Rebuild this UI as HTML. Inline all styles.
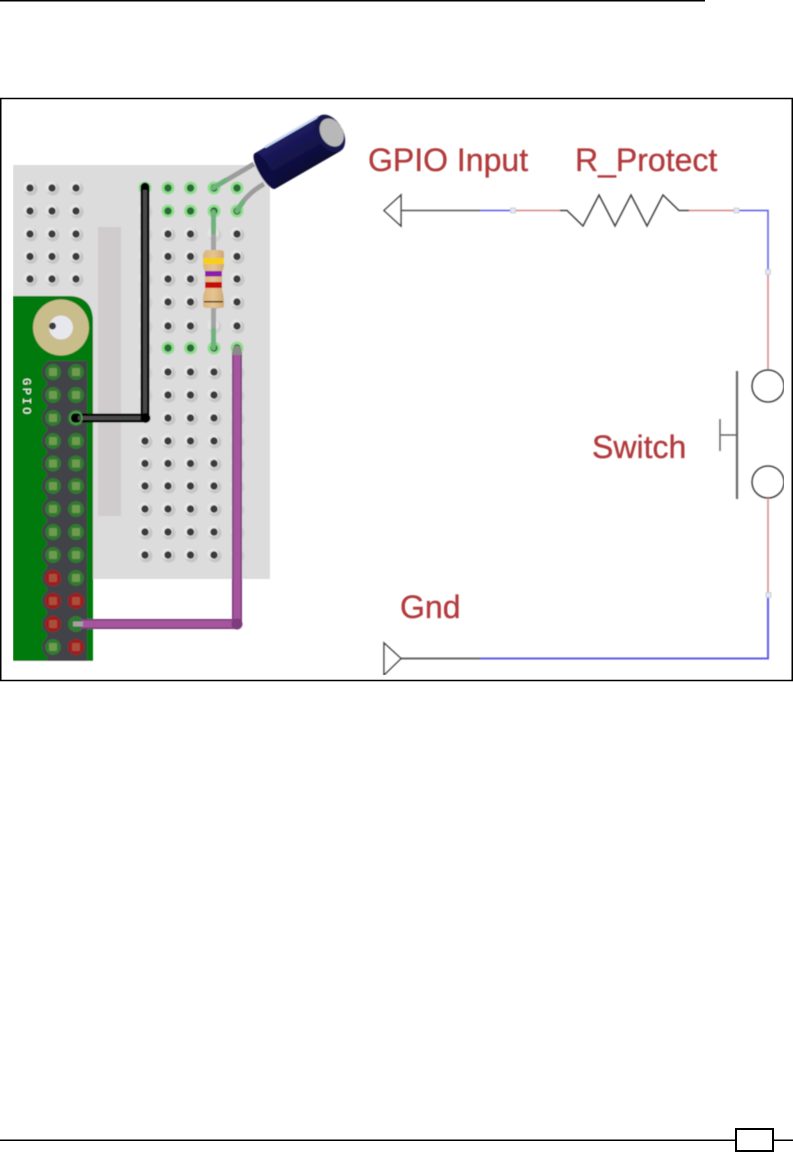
<!DOCTYPE html>
<html><head><meta charset="utf-8"><style>
html,body{margin:0;padding:0;background:#fff;width:793px;height:1152px;overflow:hidden}
svg{display:block}
text.l{font-family:"Liberation Sans",sans-serif;font-size:32px;fill:#b23a3c;stroke:#b23a3c;stroke-width:.35}
</style></head><body>
<svg width="793" height="1152" viewBox="0 0 793 1152" xmlns="http://www.w3.org/2000/svg">
<defs>
<filter id="b" x="0" y="0" width="100%" height="100%"><feGaussianBlur stdDeviation="0.45"/></filter>
<linearGradient id="capb" x1="0" y1="0" x2="0" y2="1"><stop offset="0" stop-color="#1e1d62"/><stop offset=".45" stop-color="#15144e"/><stop offset="1" stop-color="#0a0a30"/></linearGradient>
<linearGradient id="res" x1="0" y1="0" x2="1" y2="0"><stop offset="0" stop-color="#d9b57e"/><stop offset=".5" stop-color="#e6c48f"/><stop offset="1" stop-color="#cfa873"/></linearGradient>
<g id="h"><circle cx="1" cy="1" r="6.500" fill="#c6c6c6"/><circle cx="-1" cy="-1" r="5.500" fill="#e6e6e6"/><circle r="3.700" fill="#3a3a3a"/></g>
<g id="n"><circle cx="1" cy="1" r="6.500" fill="#d0d0d0"/><circle cx="-1" cy="-1" r="5.500" fill="#e4e4e4"/></g>
<g id="gh"><circle r="6.500" fill="#8ede8e"/><circle r="3.700" fill="#2b6b35"/></g>
<g id="bump"><circle cx="-11.500" r="11" fill="#434348"/><circle cx="11.500" r="11" fill="#434348"/></g>
<g id="pg"><circle r="8" fill="#2f7a2f"/><rect x="-4" y="-4" width="8" height="8" rx="1" fill="#6f9a4f"/></g>
<g id="pr"><circle r="8" fill="#a01e1e"/><rect x="-4" y="-4" width="8" height="8" rx="1" fill="#a8503e"/></g>
<g id="lc"><use href="#h" y="188"/><use href="#h" y="211"/><use href="#h" y="234"/><use href="#h" y="256.500"/><use href="#h" y="279"/></g>
<g id="col"><use href="#h" y="234"/><use href="#h" y="256.500"/><use href="#h" y="279"/><use href="#h" y="302"/><use href="#h" y="326"/><use href="#h" y="372"/><use href="#h" y="395"/><use href="#h" y="418"/><use href="#h" y="441"/><use href="#h" y="463.500"/><use href="#h" y="486"/><use href="#h" y="509"/><use href="#h" y="532"/><use href="#h" y="555"/></g>
<g id="sq"><rect x="-2.500" y="-2.500" width="5" height="5" fill="#e4e4ee" stroke="#c8c8dc" stroke-width=".8"/></g>
</defs>

<!-- page rules -->
<rect x="0" y="0" width="705" height="1.500" fill="#000"/>
<rect x="0.750" y="98.500" width="791.500" height="582" fill="#fff" stroke="#000" stroke-width="1.500"/>

<g filter="url(#b)">
<!-- breadboard -->
<rect x="13" y="165" width="257" height="414" fill="#dcdcdc"/>
<rect x="98" y="227" width="23" height="289" fill="#d0cccd"/>
<use href="#lc" x="30"/><use href="#lc" x="52"/><use href="#lc" x="76"/>
<!-- main columns -->
<use href="#col" x="168"/><use href="#col" x="190.500"/><use href="#col" x="214"/>
<use href="#h" x="145" y="441"/><use href="#h" x="145" y="463.500"/><use href="#h" x="145" y="486"/><use href="#h" x="145" y="509"/><use href="#h" x="145" y="532"/><use href="#h" x="145" y="555"/>
<use href="#n" x="145" y="211"/><use href="#n" x="145" y="234"/><use href="#n" x="145" y="256.500"/><use href="#n" x="145" y="279"/><use href="#n" x="145" y="302"/><use href="#n" x="145" y="326"/><use href="#n" x="145" y="348"/><use href="#n" x="145" y="372"/><use href="#n" x="145" y="395"/>
<use href="#n" x="214" y="234"/><use href="#n" x="214" y="326"/>
<use href="#h" x="237" y="234"/><use href="#h" x="237" y="256.500"/><use href="#h" x="237" y="279"/><use href="#h" x="237" y="302"/><use href="#h" x="237" y="326"/>
<use href="#n" x="237" y="372"/><use href="#n" x="237" y="395"/><use href="#n" x="237" y="418"/><use href="#n" x="237" y="441"/><use href="#n" x="237" y="463.500"/><use href="#n" x="237" y="486"/><use href="#n" x="237" y="509"/><use href="#n" x="237" y="532"/><use href="#n" x="237" y="555"/>
<!-- highlighted connected holes -->
<use href="#gh" x="145" y="188"/><use href="#gh" x="168" y="188"/><use href="#gh" x="190.500" y="188"/><use href="#gh" x="214" y="188"/><use href="#gh" x="237" y="188"/>
<use href="#gh" x="168" y="211"/><use href="#gh" x="190.500" y="211"/><use href="#gh" x="214" y="211"/><use href="#gh" x="237" y="211"/>
<use href="#gh" x="168" y="348"/><use href="#gh" x="190.500" y="348"/><use href="#gh" x="214" y="348"/><use href="#gh" x="237" y="348"/>

<!-- Pi board -->
<path d="M13 296H68Q93 296 93 322V661H13Z" fill="#067a0e"/>
<circle cx="61" cy="327.500" r="28" fill="#c9bd8c"/>
<circle cx="61" cy="327.500" r="12" fill="#e6e8ee"/>
<circle cx="52.500" cy="326" r="3.500" fill="#3a3a3a"/>
<rect x="47" y="361" width="40" height="300" fill="#434348"/>
<g transform="translate(64.500,0)"><use href="#bump" y="372"/><use href="#bump" y="395"/><use href="#bump" y="418"/><use href="#bump" y="441"/><use href="#bump" y="463.500"/><use href="#bump" y="486"/><use href="#bump" y="509"/><use href="#bump" y="532"/><use href="#bump" y="555"/><use href="#bump" y="578"/><use href="#bump" y="601"/><use href="#bump" y="624"/><use href="#bump" y="647"/></g>
<rect x="13" y="661" width="80" height="12" fill="#fff"/>
<text transform="translate(23,378) rotate(90)" font-family="'Liberation Mono',monospace" font-size="12" letter-spacing="2.500" fill="#f2f7ee">GPIO</text>
<use href="#pg" x="53" y="372"/><use href="#pg" x="76" y="372"/>
<use href="#pg" x="53" y="395"/><use href="#pg" x="76" y="395"/>
<use href="#pg" x="53" y="418"/><use href="#pg" x="76" y="418"/>
<use href="#pg" x="53" y="441"/><use href="#pg" x="76" y="441"/>
<use href="#pg" x="53" y="463.500"/><use href="#pg" x="76" y="463.500"/>
<use href="#pg" x="53" y="486"/><use href="#pg" x="76" y="486"/>
<use href="#pg" x="53" y="509"/><use href="#pg" x="76" y="509"/>
<use href="#pg" x="53" y="532"/><use href="#pg" x="76" y="532"/>
<use href="#pg" x="53" y="555"/><use href="#pg" x="76" y="555"/>
<use href="#pr" x="53" y="578"/><use href="#pg" x="76" y="578"/>
<use href="#pr" x="53" y="601"/><use href="#pr" x="76" y="601"/>
<use href="#pr" x="53" y="624"/><use href="#pg" x="76" y="624"/>
<use href="#pg" x="53" y="647"/><use href="#pr" x="76" y="647"/>

<!-- resistor leads -->
<path d="M213.500 212V348" stroke="#a3a3a3" stroke-width="5" fill="none"/>
<path d="M213.500 212V232M213.500 330V348" stroke="#6fb27c" stroke-width="5" stroke-linecap="round" fill="none"/>
<!-- resistor -->
<path d="M205 251Q204 250 208 250H220Q224 250 224 253V264Q224 268 222 272V290Q224 296 224 303V306Q224 308 220 308H207Q203 308 203 305V298Q203 294 205 290V272Q203 268 203 263V254Z" fill="url(#res)"/>
<rect x="203.500" y="258" width="20.500" height="6" fill="#f6cf18"/>
<rect x="205" y="271" width="17" height="5.500" fill="#8a1fb0"/>
<rect x="205" y="282" width="17" height="6" fill="#c60f0f"/>
<rect x="204" y="301" width="19" height="1.500" fill="#4a3214"/>

<!-- capacitor -->
<path d="M213 188L254 164" stroke="#9c9c9c" stroke-width="5" fill="none"/>
<path d="M213 188L226 180" stroke="#6fb27c" stroke-width="5" stroke-linecap="round" fill="none"/>
<path d="M237 211Q246 194 264 184" stroke="#9c9c9c" stroke-width="5" fill="none"/>
<path d="M237 211L243 202" stroke="#6fb27c" stroke-width="5" stroke-linecap="round" fill="none"/>
<g transform="translate(265,171) rotate(-30)">
<rect x="0" y="-20.500" width="75" height="41" fill="url(#capb)"/>
<ellipse cx="0" cy="0" rx="6" ry="20.500" fill="#101042"/>
<rect x="12" y="-22" width="62" height="2.500" fill="#c9dcf2"/>
<ellipse cx="75" cy="0" rx="13" ry="20.500" fill="#15144e"/>
<ellipse cx="77" cy="0" rx="11" ry="15" fill="#b8b8b8"/>
</g>

<!-- jumper wires -->
<path d="M145 187V418H74" stroke="#000" stroke-width="9" fill="none" stroke-linecap="round" stroke-linejoin="round"/>
<path d="M145 190V414M143 418H78" stroke="#4a4a4a" stroke-width="4" fill="none"/>
<circle cx="145.500" cy="418" r="5" fill="#000"/>
<circle cx="76" cy="418" r="6" fill="none" stroke="#4f9f4f" stroke-width="1.500"/>
<path d="M237 352V624H76" stroke="#7a3a7a" stroke-width="10" fill="none" stroke-linejoin="round"/>
<path d="M237 352V620M233 624H80" stroke="#a4559e" stroke-width="7" fill="none"/>
<circle cx="237" cy="624" r="5.500" fill="#7e3a7e"/>
<circle cx="237" cy="350" r="4.500" fill="#8a8a8a"/>
<rect x="232.500" y="349" width="9" height="6" fill="#8a8a8a"/>
<circle cx="76" cy="624" r="6.500" fill="#2f7a2f"/><rect x="73" y="621.500" width="10" height="5" fill="#a5a0a5"/>

<!-- schematic -->
<g fill="none" stroke-width="1.500">
<path d="M401 195V226L384 210.500Z" stroke="#444" fill="#fff"/>
<path d="M401 210.500H480" stroke="#555"/>
<path d="M480 210.500H512" stroke="#5b5be8"/>
<path d="M512 210.500H560" stroke="#d58585"/>
<path d="M560 210.500H567L583 226L599 195L615 226L631 195L647 226L663 195L679 210.500H689" stroke="#444"/>
<path d="M689 210.500H736" stroke="#d58585"/>
<path d="M736 210.500H768V271" stroke="#5b5be8"/>
<path d="M768 271V370" stroke="#d58585"/>
<circle cx="768" cy="386" r="16" stroke="#444"/>
<circle cx="768" cy="482" r="16" stroke="#444"/>
<path d="M768 498V594" stroke="#d58585"/>
<path d="M768 594V658.500H480" stroke="#5b5be8" stroke-width="2"/>
<path d="M480 658.500H400" stroke="#666" stroke-width="2"/>
<path d="M384 643V675L401 658.500Z" stroke="#444" fill="#fff"/>
<path d="M737 371V499" stroke="#666" stroke-width="2.200"/>
<path d="M720 419V451M720 435H737" stroke="#666"/>
</g>
<use href="#sq" x="513" y="210.500"/><use href="#sq" x="736.500" y="210.500"/><use href="#sq" x="768" y="272"/><use href="#sq" x="768.500" y="595"/>

<text class="l" x="368" y="171">GPIO Input</text>
<text class="l" x="575" y="171">R_Protect</text>
<text class="l" x="592" y="458">Switch</text>
<text class="l" x="400" y="618">Gnd</text>
</g>

<!-- footer -->
<rect x="0" y="1139.500" width="735" height="1.500" fill="#000"/>
<rect x="773" y="1139.500" width="20" height="1.500" fill="#000"/>
<rect x="736" y="1129" width="37" height="22" fill="#fff" stroke="#000" stroke-width="2"/>
</svg>
</body></html>
